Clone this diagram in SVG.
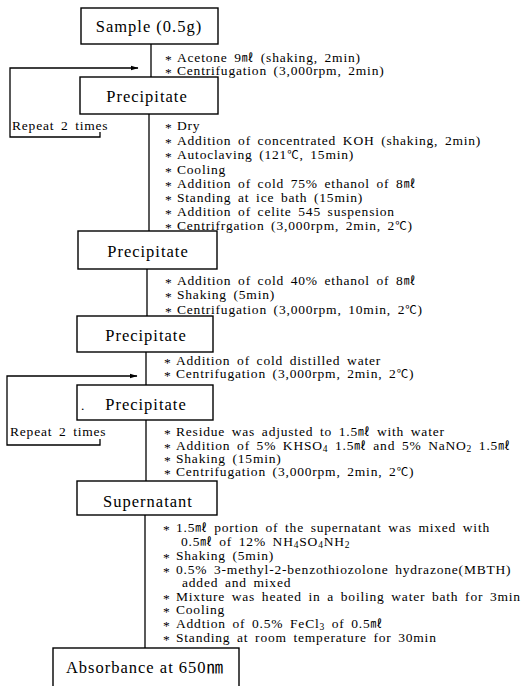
<svg xmlns="http://www.w3.org/2000/svg" width="530" height="686" viewBox="0 0 530 686">
<style>
.box{fill:#fff;stroke:#000;stroke-width:1.4}
.conn{fill:none;stroke:#000;stroke-width:1.3}
.lbl{font-family:'Liberation Serif','Noto Sans CJK KR',serif;font-size:16.5px;letter-spacing:1px;text-anchor:middle;fill:#000}
.step{font-family:'Liberation Serif','Noto Sans CJK KR',serif;font-size:13.5px;letter-spacing:0.8px;word-spacing:2.5px;fill:#000}
.sub{font-size:9.5px}
.u{font-size:11.5px}
</style>
<defs>
<marker id="ah" markerWidth="8" markerHeight="6" refX="7.5" refY="3" orient="auto" markerUnits="userSpaceOnUse">
<path d="M0,0.5 L8,3 L0,5.5 z" fill="#000"/>
</marker>
</defs>
<rect width="530" height="686" fill="#fff"/>
<g id="connectors">
<line class="conn" x1="151" y1="44" x2="151" y2="77"/>
<line class="conn" x1="149" y1="114" x2="149" y2="231"/>
<line class="conn" x1="147" y1="269" x2="147" y2="316"/>
<line class="conn" x1="146" y1="352" x2="146" y2="385"/>
<line class="conn" x1="146" y1="420" x2="146" y2="481"/>
<line class="conn" x1="145" y1="515" x2="145" y2="648"/>
<path class="conn" d="M100,132 V137 H10 V68 H138" marker-end="url(#ah)"/>
<path class="conn" d="M100,439 V445 H7 V376 H137" marker-end="url(#ah)"/>
</g>
<g id="repeat1"><text class="step" x="12" y="130">Repeat 2 times</text></g>
<g id="repeat2"><text class="step" x="10" y="436">Repeat 2 times</text></g>
<g id="sample">
<rect class="box" x="81" y="8" width="137" height="36"/>
<text class="lbl" x="149" y="32">Sample (0.5g)</text>
</g>
<g id="precipitate1">
<rect class="box" x="80" y="77" width="138" height="37"/>
<text class="lbl" x="147" y="102">Precipitate</text>
</g>
<g id="precipitate2">
<rect class="box" x="78" y="231" width="139" height="38"/>
<text class="lbl" x="148" y="257">Precipitate</text>
</g>
<g id="precipitate3">
<rect class="box" x="77" y="316" width="136" height="36"/>
<text class="lbl" x="146" y="341">Precipitate</text>
</g>
<g id="precipitate4">
<rect class="box" x="77" y="385" width="136" height="35"/>
<text class="lbl" x="146" y="410">Precipitate</text>
<text class="step" x="81" y="410">.</text>
</g>
<g id="supernatant">
<rect class="box" x="77" y="481" width="140" height="34"/>
<text class="lbl" x="148" y="507">Supernatant</text>
</g>
<g id="absorbance">
<rect class="box" x="53" y="648" width="186" height="45"/>
<text class="lbl" x="145" y="673">Absorbance at 650㎚</text>
</g>
<g id="steps1">
<text class="step" x="165" y="62"><tspan dy="2">*</tspan><tspan x="177" dy="-2">Acetone 9</tspan><tspan class="u">㎖</tspan><tspan> (shaking, 2min)</tspan></text>
<text class="step" x="165" y="75"><tspan dy="2">*</tspan><tspan x="177" dy="-2">Centrifugation (3,000rpm, 2min)</tspan></text>
</g>
<g id="steps2">
<text class="step" x="165" y="130"><tspan dy="2">*</tspan><tspan x="177" dy="-2">Dry</tspan></text>
<text class="step" x="165" y="144.5"><tspan dy="2">*</tspan><tspan x="177" dy="-2">Addition of concentrated KOH (shaking, 2min)</tspan></text>
<text class="step" x="165" y="159"><tspan dy="2">*</tspan><tspan x="177" dy="-2">Autoclaving (121</tspan><tspan class="u">℃</tspan><tspan>, 15min)</tspan></text>
<text class="step" x="165" y="173.5"><tspan dy="2">*</tspan><tspan x="177" dy="-2">Cooling</tspan></text>
<text class="step" x="165" y="188"><tspan dy="2">*</tspan><tspan x="177" dy="-2">Addition of cold 75% ethanol of 8</tspan><tspan class="u">㎖</tspan></text>
<text class="step" x="165" y="202"><tspan dy="2">*</tspan><tspan x="177" dy="-2">Standing at ice bath (15min)</tspan></text>
<text class="step" x="165" y="216"><tspan dy="2">*</tspan><tspan x="177" dy="-2">Addition of celite 545 suspension</tspan></text>
<text class="step" x="165" y="229.5"><tspan dy="2">*</tspan><tspan x="177" dy="-2">Centrifrgation (3,000rpm, 2min, 2</tspan><tspan class="u">℃</tspan><tspan>)</tspan></text>
</g>
<g id="steps3">
<text class="step" x="165" y="285"><tspan dy="2">*</tspan><tspan x="177" dy="-2">Addition of cold 40% ethanol of 8</tspan><tspan class="u">㎖</tspan></text>
<text class="step" x="165" y="299"><tspan dy="2">*</tspan><tspan x="177" dy="-2">Shaking (5min)</tspan></text>
<text class="step" x="165" y="314"><tspan dy="2">*</tspan><tspan x="177" dy="-2">Centrifugation (3,000rpm, 10min, 2</tspan><tspan class="u">℃</tspan><tspan>)</tspan></text>
</g>
<g id="steps4">
<text class="step" x="164" y="365"><tspan dy="2">*</tspan><tspan x="176" dy="-2">Addition of cold distilled water</tspan></text>
<text class="step" x="164" y="378"><tspan dy="2">*</tspan><tspan x="176" dy="-2">Centrifugation (3,000rpm, 2min, 2</tspan><tspan class="u">℃</tspan><tspan>)</tspan></text>
</g>
<g id="steps5">
<text class="step" x="164" y="436"><tspan dy="2">*</tspan><tspan x="176" dy="-2">Residue was adjusted to 1.5</tspan><tspan class="u">㎖</tspan><tspan> with water</tspan></text>
<text class="step" x="164" y="449.5"><tspan dy="2">*</tspan><tspan x="176" dy="-2">Addition of 5% KHSO</tspan><tspan class="sub" dy="2">4</tspan><tspan dy="-2"> 1.5</tspan><tspan class="u">㎖</tspan><tspan> and 5% NaNO</tspan><tspan class="sub" dy="2">2</tspan><tspan dy="-2"> 1.5</tspan><tspan class="u">㎖</tspan></text>
<text class="step" x="164" y="462.5"><tspan dy="2">*</tspan><tspan x="176" dy="-2">Shaking (15min)</tspan></text>
<text class="step" x="164" y="475.5"><tspan dy="2">*</tspan><tspan x="176" dy="-2">Centrifugation (3,000rpm, 2min, 2</tspan><tspan class="u">℃</tspan><tspan>)</tspan></text>
</g>
<g id="steps6">
<text class="step" x="163" y="532"><tspan dy="2">*</tspan><tspan x="176" dy="-2">1.5</tspan><tspan class="u">㎖</tspan><tspan> portion of the supernatant was mixed with</tspan></text>
<text class="step" x="181" y="546">0.5<tspan class="u">㎖</tspan><tspan> of 12% NH</tspan><tspan class="sub" dy="2">4</tspan><tspan dy="-2">SO</tspan><tspan class="sub" dy="2">4</tspan><tspan dy="-2">NH</tspan><tspan class="sub" dy="2">2</tspan></text>
<text class="step" x="163" y="560"><tspan dy="2">*</tspan><tspan x="176" dy="-2">Shaking (5min)</tspan></text>
<text class="step" x="163" y="574"><tspan dy="2">*</tspan><tspan x="176" dy="-2">0.5% 3-methyl-2-benzothiozolone hydrazone(MBTH)</tspan></text>
<text class="step" x="182" y="587">added and mixed</text>
<text class="step" x="163" y="601"><tspan dy="2">*</tspan><tspan x="176" dy="-2">Mixture was heated in a boiling water bath for 3min</tspan></text>
<text class="step" x="163" y="614"><tspan dy="2">*</tspan><tspan x="176" dy="-2">Cooling</tspan></text>
<text class="step" x="163" y="628"><tspan dy="2">*</tspan><tspan x="176" dy="-2">Addtion of 0.5% FeCl</tspan><tspan class="sub" dy="2">3</tspan><tspan dy="-2"> of 0.5</tspan><tspan class="u">㎖</tspan></text>
<text class="step" x="163" y="642"><tspan dy="2">*</tspan><tspan x="176" dy="-2">Standing at room temperature for 30min</tspan></text>
</g>
</svg>
